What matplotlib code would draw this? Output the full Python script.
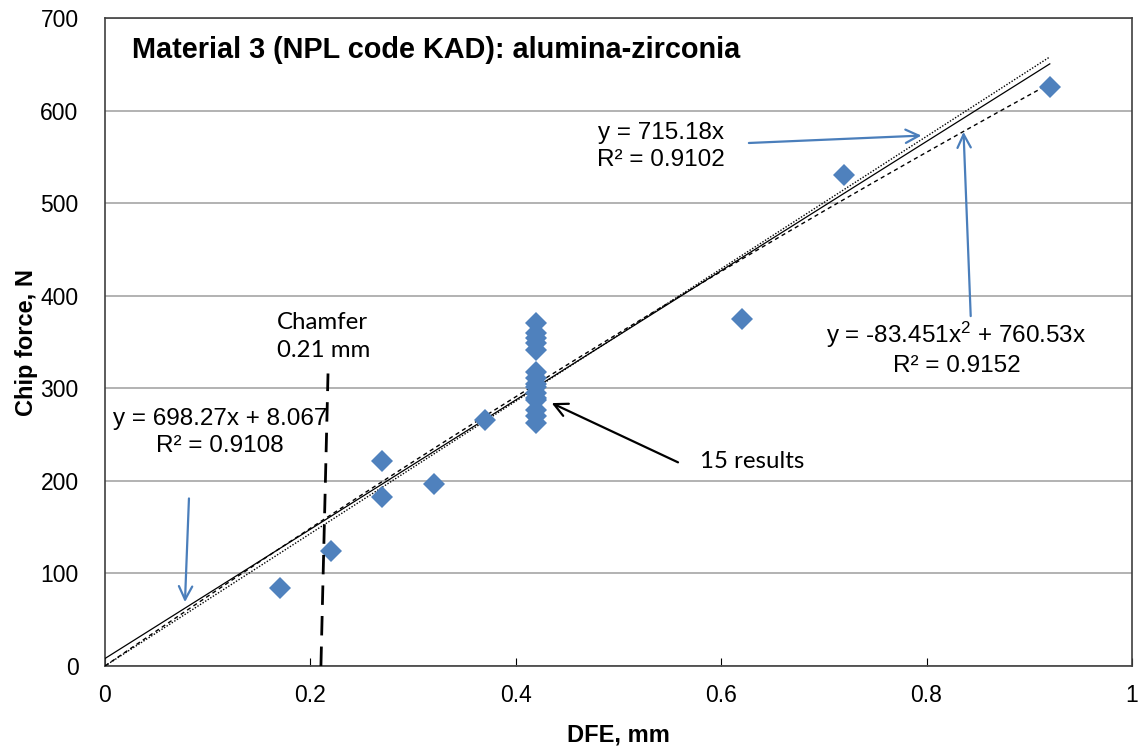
import numpy as np
import matplotlib
matplotlib.use("Agg")
import matplotlib.pyplot as plt

# ---- data ----
dfe = [0.17, 0.22, 0.27, 0.27, 0.32, 0.37,
       0.42, 0.42, 0.42, 0.42, 0.42, 0.42, 0.42, 0.42, 0.42, 0.42,
       0.42, 0.42, 0.42, 0.42, 0.42,
       0.62, 0.72, 0.92]
force = [84, 124, 221, 183, 197, 266,
         370, 360, 354, 349, 341, 318, 311, 305, 301, 295,
         290, 287, 277, 270, 263,
         375, 530, 625]

lin_slope, lin_icpt = 698.27, 8.067
prop_slope = 715.18
poly_a, poly_b = -83.451, 760.53
x_fit_end = 0.92

chamfer_x = [0.2103, 0.2172]
chamfer_y = [0, 316]

xticks = [0, 0.2, 0.4, 0.6, 0.8, 1]
xticklabels = ["0", "0.2", "0.4", "0.6", "0.8", "1"]
yticks = list(range(0, 701, 100))

title = "Material 3 (NPL code KAD): alumina-zirconia"

# ---- figure ----
plt.rcParams['font.family'] = ['Liberation Sans', 'DejaVu Sans']
plt.rcParams['mathtext.fontset'] = 'custom'
plt.rcParams['mathtext.rm'] = 'Liberation Sans'
plt.rcParams['mathtext.it'] = 'Liberation Sans'
fig = plt.figure(figsize=(11.42, 7.51), dpi=100)
ax = fig.add_axes([0.0919, 0.1132, 0.8993, 0.8628])

ax.set_xlim(0, 1)
ax.set_ylim(0, 700)
ax.set_yticks(yticks)
ax.set_xticks(xticks)
ax.set_xticklabels(xticklabels)
ax.grid(axis='y', color='#A6A6A6', linewidth=1.2)
ax.set_axisbelow(True)
ax.tick_params(axis='y', length=0, labelsize=16.5, pad=19)
ax.tick_params(axis='x', direction='in', length=6, labelsize=16.5, pad=13)
for s in ax.spines.values():
    s.set_color('#404040')
    s.set_linewidth(1.2)

xf = np.linspace(0, x_fit_end, 200)
ax.plot(xf, lin_slope * xf + lin_icpt, color='black', lw=0.9, zorder=3)
ax.plot(xf, prop_slope * xf, color='black', lw=1.0, ls=(0, (1, 1.2)), zorder=3)
ax.plot(xf, poly_a * xf**2 + poly_b * xf, color='black', lw=1.0, ls=(0, (3, 2.5)), zorder=3)

ax.plot(dfe, force, ls='none', marker='D', ms=11.5, color='#4F81BD',
        markeredgewidth=0, zorder=4)

ax.plot(chamfer_x, chamfer_y, color='black', lw=2, ls=(0, (7, 4)), zorder=5)

ax.text(0.0263, 657, title, fontsize=20.8, fontweight='bold', va='baseline', ha='left')

ax.text(0.1675, 356, "Chamfer\n0.21 mm", fontsize=17.3, family=['Lato', 'DejaVu Sans'],
        ha='left', va='center', linespacing=1.45)

ax.text(0.112, 252, "y = 698.27x + 8.067\nR² = 0.9108", fontsize=17.5, ha='center',
        va='center', linespacing=1.3)
ax.text(0.541, 561, "y = 715.18x\nR² = 0.9102", fontsize=17.5, ha='center',
        va='center', linespacing=1.3)
ax.text(0.829, 343, "y = -83.451x$^{2}$ + 760.53x\nR² = 0.9152", fontsize=17.5,
        ha='center', va='center', linespacing=1.3)
ax.text(0.579, 221, "15 results", fontsize=17.3, family=['Lato', 'DejaVu Sans'],
        ha='left', va='center')

blue = '#4A7EBB'
ap = dict(arrowstyle='->', color=blue, lw=1.6, mutation_scale=24, shrinkA=0, shrinkB=0)
ax.annotate("", xy=(0.0779, 69), xytext=(0.0818, 181), arrowprops=ap)
ax.annotate("", xy=(0.795, 573), xytext=(0.627, 565), arrowprops=ap)
ax.annotate("", xy=(0.836, 577), xytext=(0.843, 378), arrowprops=ap)
ax.annotate("", xy=(0.435, 284), xytext=(0.558, 220),
            arrowprops=dict(arrowstyle='->', color='black', lw=1.6, mutation_scale=24,
                            shrinkA=0, shrinkB=0))

ax.set_xlabel("DFE, mm", fontsize=17, fontweight='bold', labelpad=12)
ax.set_ylabel("Chip force, N", fontsize=17, fontweight='bold', labelpad=2)

fig.savefig("out.png", dpi=100)
